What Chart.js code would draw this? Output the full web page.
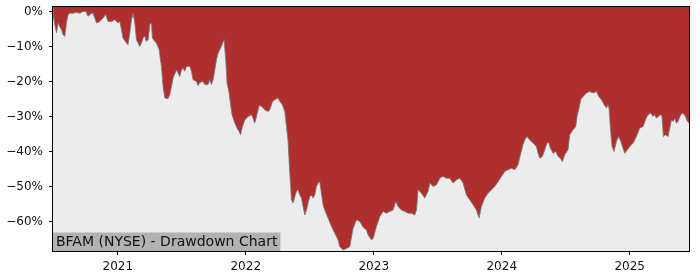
<!DOCTYPE html>
<html>
<head>
<meta charset="utf-8">
<title>BFAM Drawdown Chart</title>
<script src="https://cdn.jsdelivr.net/npm/chart.js@4"></script>
<style>
    html, body { margin: 0; padding: 0; background: #ffffff; }
    #wrap { width: 700px; height: 280px; }
</style>
</head>
<body>
<div id="wrap"><canvas id="drawdownChart" width="700" height="280"></canvas></div>
<script>
/* ================================
   BFAM (NYSE) DRAWDOWN CHART
   ================================ */

// Chart label
const chartLabel = 'BFAM (NYSE) - Drawdown Chart';

// Dates as decimal years
const dates = [
    2020.495, 2020.508, 2020.521, 2020.534, 2020.547, 2020.560, 2020.573, 2020.586, 2020.599, 2020.612,
    2020.625, 2020.651, 2020.677, 2020.703, 2020.729, 2020.750, 2020.768, 2020.795, 2020.807, 2020.834,
    2020.859, 2020.885, 2020.906, 2020.924, 2020.951, 2020.977, 2021.002, 2021.016, 2021.029, 2021.041,
    2021.068, 2021.080, 2021.094, 2021.107, 2021.120, 2021.133, 2021.146, 2021.172, 2021.185, 2021.198,
    2021.211, 2021.224, 2021.237, 2021.250, 2021.263, 2021.271, 2021.289, 2021.302, 2021.323, 2021.341,
    2021.354, 2021.367, 2021.393, 2021.406, 2021.420, 2021.432, 2021.459, 2021.471, 2021.484, 2021.498,
    2021.510, 2021.523, 2021.537, 2021.563, 2021.576, 2021.588, 2021.615, 2021.627, 2021.641, 2021.666,
    2021.680, 2021.705, 2021.719, 2021.732, 2021.745, 2021.758, 2021.771, 2021.784, 2021.797, 2021.810,
    2021.823, 2021.830, 2021.844, 2021.854, 2021.870, 2021.880, 2021.893, 2021.914, 2021.932, 2021.948,
    2021.959, 2021.974, 2021.992, 2022.018, 2022.045, 2022.057, 2022.070, 2022.084, 2022.104, 2022.123,
    2022.148, 2022.174, 2022.188, 2022.209, 2022.227, 2022.252, 2022.266, 2022.287, 2022.305, 2022.318,
    2022.330, 2022.344, 2022.357, 2022.370, 2022.383, 2022.396, 2022.409, 2022.422, 2022.435, 2022.448,
    2022.461, 2022.474, 2022.487, 2022.500, 2022.513, 2022.526, 2022.539, 2022.552, 2022.565, 2022.578,
    2022.591, 2022.604, 2022.617, 2022.643, 2022.670, 2022.695, 2022.721, 2022.734, 2022.760, 2022.791,
    2022.813, 2022.838, 2022.865, 2022.891, 2022.917, 2022.943, 2022.956, 2022.982, 2022.995, 2023.021,
    2023.047, 2023.073, 2023.099, 2023.125, 2023.151, 2023.172, 2023.190, 2023.216, 2023.242, 2023.268,
    2023.295, 2023.320, 2023.334, 2023.346, 2023.373, 2023.398, 2023.424, 2023.438, 2023.463, 2023.490,
    2023.516, 2023.541, 2023.568, 2023.594, 2023.620, 2023.646, 2023.672, 2023.698, 2023.724, 2023.750,
    2023.776, 2023.802, 2023.823, 2023.841, 2023.867, 2023.893, 2023.920, 2023.945, 2023.971, 2023.998,
    2024.023, 2024.049, 2024.076, 2024.102, 2024.127, 2024.146, 2024.166, 2024.180, 2024.198, 2024.219,
    2024.245, 2024.271, 2024.284, 2024.297, 2024.318, 2024.336, 2024.354, 2024.367, 2024.380, 2024.401,
    2024.422, 2024.440, 2024.459, 2024.474, 2024.492, 2024.518, 2024.531, 2024.557, 2024.578, 2024.588,
    2024.604, 2024.617, 2024.635, 2024.662, 2024.688, 2024.713, 2024.740, 2024.758, 2024.779, 2024.799,
    2024.818, 2024.830, 2024.838, 2024.852, 2024.862, 2024.877, 2024.896, 2024.914, 2024.930, 2024.943,
    2024.961, 2024.982, 2025.000, 2025.026, 2025.052, 2025.078, 2025.104, 2025.123, 2025.143, 2025.164,
    2025.182, 2025.195, 2025.209, 2025.221, 2025.242, 2025.252, 2025.263, 2025.279, 2025.299, 2025.313,
    2025.326, 2025.338, 2025.352, 2025.365, 2025.377, 2025.398, 2025.416, 2025.435, 2025.451, 2025.463
];

// Drawdown from running peak, in percent
const drawdown = [
    -0.8, -3.8, -6.1, -3.3, -4.4, -5.2, -6.7, -7.1, -3.2, -0.9,
    -0.5, -0.5, -0.3, -0.5, 0.0, 0.0, -1.4, -0.5, -0.5, -3.3,
    -2.9, -1.9, -0.9, -2.9, -2.9, -2.4, -3.3, -2.9, -5.2, -7.6,
    -9.0, -9.5, -6.2, -2.4, -0.5, -3.3, -8.1, -10.0, -9.0, -7.6,
    -7.1, -8.6, -8.1, -3.8, -3.3, -7.6, -8.6, -9.0, -10.9, -15.7,
    -21.4, -24.7, -24.9, -23.8, -21.4, -19.0, -16.7, -17.6, -18.6, -16.7,
    -16.2, -17.1, -15.7, -15.7, -17.1, -19.5, -20.0, -21.2, -20.3, -20.0,
    -20.9, -20.9, -19.5, -20.9, -19.5, -16.7, -13.8, -11.9, -10.9, -10.0,
    -8.6, -7.9, -13.8, -20.5, -23.3, -26.2, -29.5, -31.9, -33.3, -34.3,
    -35.2, -32.9, -31.0, -30.0, -29.5, -30.5, -31.9, -30.0, -26.9, -27.1,
    -28.1, -28.6, -28.1, -25.7, -25.2, -24.7, -25.7, -26.7, -28.6, -32.9,
    -36.7, -46.1, -53.8, -54.7, -52.9, -51.4, -50.9, -52.4, -53.3, -55.7,
    -58.1, -56.7, -54.7, -52.9, -52.4, -53.3, -52.4, -50.0, -49.0, -48.6,
    -51.9, -55.2, -56.7, -59.0, -61.4, -63.3, -65.2, -67.1, -68.1, -67.6,
    -67.1, -62.0, -59.5, -60.0, -61.6, -62.4, -63.8, -65.2, -64.8, -61.4,
    -58.6, -57.1, -57.6, -57.1, -56.7, -54.3, -55.7, -56.7, -57.1, -57.6,
    -57.6, -58.1, -56.7, -50.9, -51.9, -53.3, -51.4, -49.0, -50.0, -49.5,
    -47.6, -47.1, -47.6, -47.6, -49.0, -48.1, -47.6, -49.0, -52.4, -53.8,
    -55.2, -56.7, -59.0, -55.7, -53.3, -51.9, -50.9, -50.0, -48.6, -47.1,
    -45.7, -45.2, -44.8, -45.2, -43.8, -40.9, -38.1, -36.7, -35.7, -36.7,
    -37.6, -38.6, -40.5, -41.9, -41.4, -39.5, -37.6, -37.4, -39.0, -40.5,
    -40.0, -41.4, -41.9, -42.9, -40.9, -39.5, -35.2, -33.8, -32.9, -30.0,
    -27.6, -25.2, -24.3, -23.3, -22.9, -23.3, -22.9, -24.3, -25.2, -26.6,
    -27.6, -26.6, -27.6, -34.8, -38.6, -40.0, -37.1, -35.7, -37.1, -38.6,
    -40.5, -39.5, -38.6, -37.6, -35.7, -33.3, -32.9, -30.9, -29.5, -29.0,
    -30.0, -29.5, -30.5, -30.0, -29.5, -30.0, -35.7, -35.2, -35.7, -33.3,
    -30.9, -31.4, -30.5, -31.9, -31.4, -29.5, -29.0, -30.0, -31.4, -31.9
];

// Axis ticks and ranges
const yTicks = [-60, -50, -40, -30, -20, -10, 0];
const xTicks = [2021, 2022, 2023, 2024, 2025];
const yRange = [-68.4, 1.25];
const xRange = [2020.494, 2025.463];

// Plot background, frame and label box
const plotDecor = {
    id: 'plotDecor',
    beforeDatasetsDraw(chart) {
        const { ctx, chartArea } = chart;
        ctx.save();
        ctx.fillStyle = '#ececec';
        ctx.fillRect(chartArea.left, chartArea.top, chartArea.right - chartArea.left, chartArea.bottom - chartArea.top);
        ctx.restore();
    },
    afterDatasetsDraw(chart) {
        const { ctx, chartArea } = chart;
        ctx.save();
        ctx.font = '14px "DejaVu Sans"';
        const w = ctx.measureText(chartLabel).width;
        ctx.fillStyle = '#b2b2b2';
        ctx.fillRect(chartArea.left, chartArea.bottom - 18.5, w + 6, 18.5);
        ctx.fillStyle = '#111111';
        ctx.textBaseline = 'middle';
        ctx.fillText(chartLabel, chartArea.left + 3, chartArea.bottom - 9);
        ctx.strokeStyle = '#000000';
        ctx.lineWidth = 1;
        ctx.strokeRect(Math.round(chartArea.left) - 0.5, Math.round(chartArea.top) - 0.5,
            Math.round(chartArea.right - chartArea.left) + 1, Math.round(chartArea.bottom - chartArea.top) + 1);
        ctx.restore();
    }
};

// Fixed axis boxes, no automatic label padding
function fitX(scale) {
    scale.height = 29;
    scale.paddingLeft = 0;
    scale.paddingRight = 0;
}
function fitY(scale) {
    scale.width = 53;
    scale.paddingTop = 0;
    scale.paddingBottom = 0;
}

const points = dates.map((d, i) => ({ x: d, y: drawdown[i] }));

new Chart(document.getElementById('drawdownChart'), {
    type: 'line',
    data: {
        datasets: [{
            label: 'Drawdown',
            data: points,
            borderColor: 'rgba(120, 120, 120, 0.85)',
            borderWidth: 1,
            backgroundColor: '#af2f2f',
            fill: 'end',
            pointRadius: 0,
            tension: 0
        }]
    },
    options: {
        responsive: false,
        animation: false,
        layout: {
            padding: { left: 0, right: 11, top: 7, bottom: 0 }
        },
        plugins: {
            legend: { display: false },
            tooltip: { enabled: false }
        },
        scales: {
            x: {
                type: 'linear',
                min: xRange[0],
                max: xRange[1],
                afterBuildTicks: (scale) => { scale.ticks = xTicks.map(v => ({ value: v })); },
                afterFit: fitX,
                grid: { drawOnChartArea: false, drawTicks: true, tickLength: 4, tickColor: '#000000' },
                border: { display: true, color: '#000000' },
                ticks: {
                    color: '#111111',
                    font: { family: 'DejaVu Sans', size: 12 },
                    padding: 5,
                    maxRotation: 0,
                    callback: (v) => String(v)
                }
            },
            y: {
                min: yRange[0],
                max: yRange[1],
                afterBuildTicks: (scale) => { scale.ticks = yTicks.map(v => ({ value: v })); },
                afterFit: fitY,
                grid: { drawOnChartArea: false, drawTicks: true, tickLength: 4, tickColor: '#000000' },
                border: { display: true, color: '#000000' },
                ticks: {
                    color: '#111111',
                    font: { family: 'DejaVu Sans', size: 12 },
                    padding: 6,
                    callback: (v) => (v < 0 ? '\u2212' + Math.abs(v) : v) + '%'
                }
            }
        }
    },
    plugins: [plotDecor]
});
</script>
</body>
</html>
